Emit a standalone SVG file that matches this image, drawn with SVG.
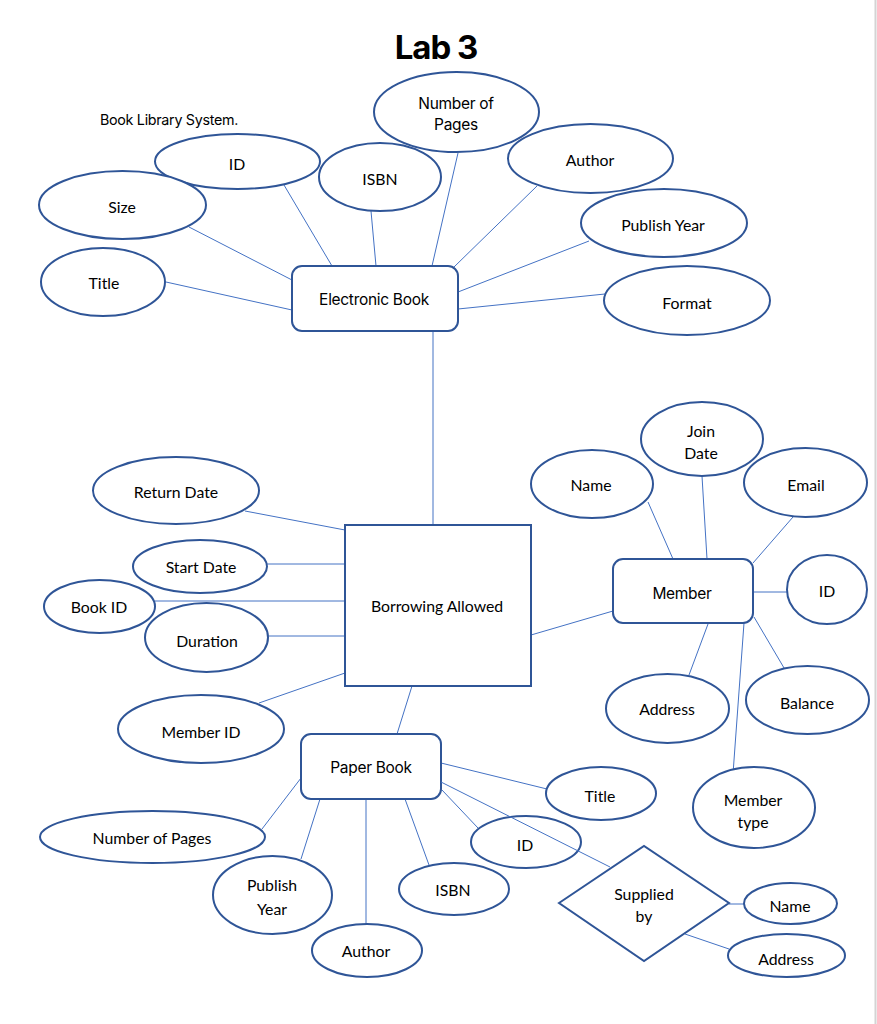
<svg xmlns="http://www.w3.org/2000/svg" width="877" height="1024" viewBox="0 0 877 1024">
<style>
.e{fill:#fff;stroke:#2f5597;stroke-width:2}
.r{fill:#fff;stroke:#2f5597;stroke-width:2}
.c line{stroke:#4472c4;stroke-width:1}
text{font-family:Lato,"Open Sans",sans-serif;font-size:15.8px;fill:#000;text-anchor:middle;dominant-baseline:central}
.a{font-family:Inter,"Open Sans",sans-serif;font-size:15.5px;letter-spacing:-0.3px}
</style>
<rect width="877" height="1024" fill="#fff"/>
<line x1="875.5" y1="0" x2="875.5" y2="1024" stroke="#d4d4d4" stroke-width="2"/>
<text x="436" y="47" style="font-family:Inter,sans-serif;font-size:33px;font-weight:700;letter-spacing:-1px">Lab 3</text>
<text x="100" y="119" class="a" style="text-anchor:start;font-size:14.3px">Book Library System.</text>
<g class="c" id="connectors">
<line x1="284" y1="185" x2="332" y2="266"/>
<line x1="189" y1="227" x2="292" y2="280"/>
<line x1="166" y1="282" x2="292" y2="310"/>
<line x1="371" y1="211" x2="376" y2="266"/>
<line x1="458" y1="153" x2="432" y2="266"/>
<line x1="537" y1="186" x2="454" y2="267"/>
<line x1="589" y1="241" x2="458" y2="292"/>
<line x1="605" y1="294" x2="458" y2="309"/>
<line x1="433" y1="331" x2="433" y2="525"/>
<line x1="245" y1="511" x2="345" y2="530"/>
<line x1="267" y1="564" x2="345" y2="564"/>
<line x1="155" y1="601" x2="345" y2="601"/>
<line x1="268" y1="636" x2="345" y2="636"/>
<line x1="259" y1="703" x2="345" y2="673"/>
<line x1="412" y1="686" x2="397" y2="734"/>
<line x1="531" y1="635" x2="613" y2="611"/>
<line x1="648" y1="502" x2="673" y2="559"/>
<line x1="702" y1="476" x2="707" y2="559"/>
<line x1="793" y1="517" x2="753" y2="563"/>
<line x1="753" y1="592" x2="787" y2="592"/>
<line x1="754" y1="617" x2="787" y2="673"/>
<line x1="708" y1="624" x2="689" y2="675"/>
<line x1="744" y1="623" x2="733" y2="774"/>
<line x1="262" y1="829" x2="301" y2="778"/>
<line x1="301" y1="859" x2="320" y2="799"/>
<line x1="366" y1="799" x2="366" y2="924"/>
<line x1="429" y1="865" x2="405" y2="799"/>
<line x1="442" y1="790" x2="478" y2="828"/>
<line x1="441" y1="763" x2="547" y2="789"/>
<line x1="729" y1="904" x2="744" y2="904"/>
<line x1="685" y1="934" x2="729" y2="949"/>
</g>
<g id="eb-number-of-pages"><ellipse class="e" cx="456.5" cy="112" rx="82.5" ry="40"/><text class="a" x="456" y="103">Number of</text><text class="a" x="456" y="124">Pages</text></g>
<g id="eb-id"><ellipse class="e" cx="237.5" cy="161.5" rx="82.5" ry="27.5"/><text x="237" y="163">ID</text></g>
<g id="eb-isbn"><ellipse class="e" cx="380" cy="177" rx="61" ry="34"/><text x="380" y="178">ISBN</text></g>
<g id="eb-size"><ellipse class="e" cx="122.5" cy="205" rx="83.5" ry="34"/><text x="122" y="206">Size</text></g>
<g id="eb-title"><ellipse class="e" cx="103" cy="282" rx="62" ry="34"/><text x="104" y="282">Title</text></g>
<g id="eb-author"><ellipse class="e" cx="590.5" cy="158.5" rx="82.5" ry="34.5"/><text x="590" y="159">Author</text></g>
<g id="eb-publish-year"><ellipse class="e" cx="664" cy="223" rx="83" ry="34"/><text x="663" y="224">Publish Year</text></g>
<g id="eb-format"><ellipse class="e" cx="687" cy="300.5" rx="83" ry="34.5"/><text x="687" y="302">Format</text></g>
<g id="electronic-book"><rect class="r" x="292" y="266" width="166" height="65" rx="10"/><text class="a" x="374" y="299">Electronic Book</text></g>
<g id="borrowing-allowed"><rect class="r" x="345" y="525" width="186" height="161"/><text x="437" y="605">Borrowing Allowed</text></g>
<g id="ba-return-date"><ellipse class="e" cx="176" cy="490.5" rx="83" ry="33.5"/><text x="176" y="491">Return Date</text></g>
<g id="ba-start-date"><ellipse class="e" cx="200" cy="566.5" rx="67" ry="26.5"/><text x="201" y="566">Start Date</text></g>
<g id="ba-book-id"><ellipse class="e" cx="99.5" cy="606.5" rx="55.5" ry="26.5"/><text x="99" y="606">Book ID</text></g>
<g id="ba-duration"><ellipse class="e" cx="206.5" cy="637.5" rx="61.5" ry="34.5"/><text x="207" y="640">Duration</text></g>
<g id="ba-member-id"><ellipse class="e" cx="201" cy="729" rx="83" ry="34"/><text x="201" y="731">Member ID</text></g>
<g id="member"><rect class="r" x="613" y="559" width="140" height="64" rx="10"/><text class="a" x="682" y="593">Member</text></g>
<g id="m-name"><ellipse class="e" cx="592" cy="484" rx="61" ry="34"/><text x="591" y="484">Name</text></g>
<g id="m-join-date"><ellipse class="e" cx="702" cy="439" rx="61" ry="37"/><text x="701" y="430">Join</text><text x="701" y="452">Date</text></g>
<g id="m-email"><ellipse class="e" cx="805.5" cy="482.5" rx="61.5" ry="34.5"/><text x="806" y="484">Email</text></g>
<g id="m-id"><ellipse class="e" cx="827" cy="589.5" rx="40" ry="34.5"/><text x="827" y="590">ID</text></g>
<g id="m-balance"><ellipse class="e" cx="807.5" cy="700" rx="61.5" ry="34"/><text x="807" y="702">Balance</text></g>
<g id="m-address"><ellipse class="e" cx="667.5" cy="708.5" rx="61.5" ry="34.5"/><text x="667" y="708">Address</text></g>
<g id="m-member-type"><ellipse class="e" cx="754" cy="807.5" rx="61" ry="40.5"/><text x="753" y="799">Member</text><text x="753" y="821">type</text></g>
<g id="paper-book"><rect class="r" x="301" y="734" width="140" height="65" rx="10"/><text class="a" x="371" y="767">Paper Book</text></g>
<g id="pb-number-of-pages"><ellipse class="e" cx="152.5" cy="837" rx="112.5" ry="26"/><text x="152" y="837">Number of Pages</text></g>
<g id="pb-publish-year"><ellipse class="e" cx="272.5" cy="895" rx="59.5" ry="39"/><text x="272" y="884">Publish</text><text x="272" y="908">Year</text></g>
<g id="pb-author"><ellipse class="e" cx="367" cy="950.5" rx="55" ry="26.5"/><text x="366" y="950">Author</text></g>
<g id="pb-isbn"><ellipse class="e" cx="454" cy="889" rx="55" ry="26"/><text x="453" y="889">ISBN</text></g>
<g id="pb-id"><ellipse class="e" cx="526" cy="842" rx="55" ry="26"/><text x="525" y="844">ID</text></g>
<g id="pb-title"><ellipse class="e" cx="601" cy="793.5" rx="55" ry="26.5"/><text x="600" y="795">Title</text></g>
<g id="supplied-by"><polygon class="r" points="559,903 644,846 729,903 644,961"/><text x="644" y="893">Supplied</text><text x="644" y="915">by</text></g>
<g id="s-name"><ellipse class="e" cx="790.5" cy="903.5" rx="46.5" ry="20.5"/><text x="790" y="905">Name</text></g>
<g id="s-address"><ellipse class="e" cx="786.5" cy="955.5" rx="58.5" ry="21.5"/><text x="786" y="958">Address</text></g>
<line x1="441" y1="782" x2="610" y2="867" stroke="#4472c4" stroke-width="1"/>
</svg>
